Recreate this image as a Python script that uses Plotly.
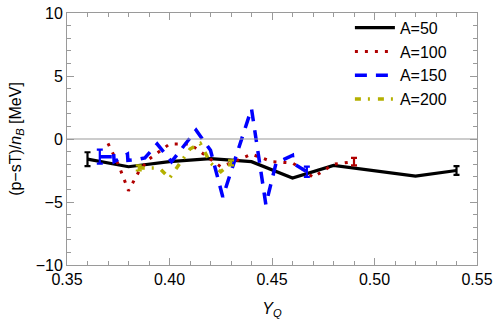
import plotly.graph_objects as go

# A=50
a50_x = [0.36, 0.38, 0.40, 0.42, 0.44, 0.46, 0.48, 0.50, 0.52, 0.54]
a50_y = [-1.6, -2.2, -1.8, -1.55, -1.8, -3.1, -2.1, -2.5, -2.95, -2.5]
a50_err = [0.55, 0.35]   # first / last point

# A=100
a100_x = [0.37, 0.375, 0.38, 0.385, 0.39, 0.40, 0.41, 0.415, 0.42, 0.425, 0.43,
          0.44, 0.45, 0.46, 0.465, 0.47, 0.48, 0.49]
a100_y = [-0.35, -2.0, -4.1, -2.6, -1.6, -0.4, -0.4, -1.0, -1.6, -2.2, -1.9,
          -1.2, -1.8, -1.9, -2.4, -3.05, -2.0, -1.8]
a100_err = [0, 0.3]

# A=150
a150_x = [0.366, 0.3725, 0.3727, 0.373, 0.3795, 0.3797, 0.385, 0.388, 0.394,
          0.401, 0.413, 0.42, 0.426, 0.44, 0.447, 0.452, 0.46, 0.4605, 0.467]
a150_y = [-1.4, -1.4, -1.0, -1.8, -1.2, -1.7, -1.6, -1.5, -0.4,
          -1.8, 0.7, -0.9, -4.6, 2.4, -5.2, -1.9, -1.3, -1.95, -2.6]
a150_err = [0.55, 0.4]

# A=200
a200_x = [0.385, 0.39, 0.395, 0.40, 0.41, 0.415, 0.42, 0.425, 0.43]
a200_y = [-2.3, -2.3, -2.3, -3.1, -0.8, -0.35, -1.9, -2.6, -1.9]
a200_err = [0.2, 0.2]

series = [
    ("A=50", a50_x, a50_y, a50_err, "black", "solid", 3.2),
    ("A=100", a100_x, a100_y, a100_err, "#B00000", "3px,7px", 3),
    ("A=150", a150_x, a150_y, a150_err, "#0000FF", "12px,9px", 3.5),
    ("A=200", a200_x, a200_y, a200_err, "#B4B000", "6px,7px,2px,8px", 3.5),
]

fig = go.Figure()

for name, xs, ys, err, col, dash, w in series:
    fig.add_trace(go.Scatter(
        x=xs, y=ys, mode="lines", name=name,
        line=dict(color=col, dash=dash, width=w)
    ))
    ex = [xs[0], xs[-1]]
    ey = [ys[0], ys[-1]]
    keep = [i for i in range(2) if err[i] > 0]
    fig.add_trace(go.Scatter(
        x=[ex[i] for i in keep], y=[ey[i] for i in keep], mode="markers",
        marker=dict(size=1, color=col, opacity=0),
        error_y=dict(type="data", array=[err[i] for i in keep], color=col,
                     thickness=2.2, width=3),
        showlegend=False, hoverinfo="skip"
    ))

font = dict(family="Liberation Sans, Arial", size=16, color="black")
axis_common = dict(
    showline=True, linecolor="#9a9a9a", linewidth=1, mirror="allticks",
    ticks="inside", tickcolor="#9a9a9a", ticklen=7, showgrid=False, zeroline=False,
    tickfont=font, automargin=False,
)

fig.update_xaxes(
    range=[0.35, 0.55], dtick=0.05, tick0=0.35, tickformat=".2f",
    minor=dict(ticks="inside", ticklen=4, dtick=0.01, tickcolor="#9a9a9a"),
    title=dict(text="<i>Y<sub>Q</sub></i>", font=font),
    **axis_common
)
fig.update_yaxes(
    range=[-10, 10], dtick=5,
    minor=dict(ticks="inside", ticklen=4, dtick=1, tickcolor="#9a9a9a"),
    title=dict(text="(p\u2212sT)/<i>n<sub>B</sub></i> [MeV]", font=font, standoff=10),
    **axis_common
)

fig.add_hline(y=0, line=dict(color="#999999", width=1.2))

fig.update_layout(
    width=498, height=323,
    margin=dict(l=67, r=21, t=12, b=58),
    plot_bgcolor="white", paper_bgcolor="white",
    legend=dict(x=0.69, y=1.005, xanchor="left", yanchor="top", itemwidth=40,
                bgcolor="rgba(0,0,0,0)", tracegroupgap=0, font=font),
)

fig.write_html("out.html", config={"displayModeBar": False},
               post_script="document.body.style.margin='0px';")
